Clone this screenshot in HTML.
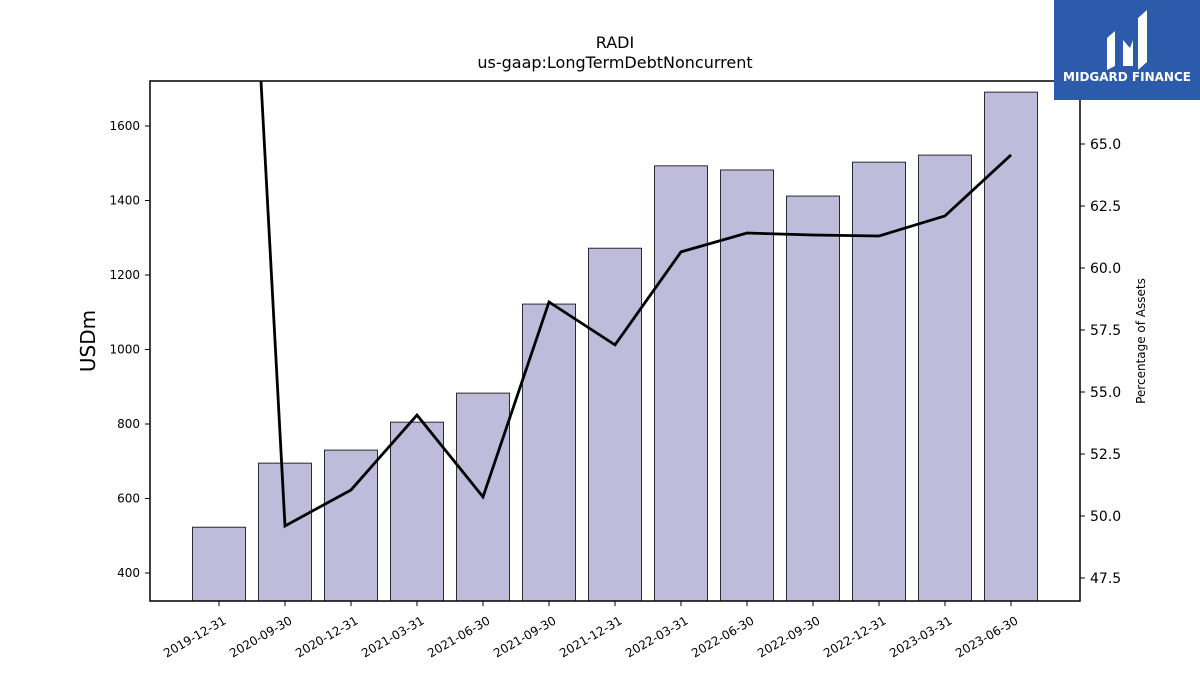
<!DOCTYPE html>
<html><head><meta charset="utf-8"><style>body{margin:0;background:#fff}svg{display:block;font-family:"DejaVu Sans","Liberation Sans",sans-serif}</style></head>
<body>
<svg id="c" width="1200" height="675"></svg>
<script>
const categories=["2019-12-31","2020-09-30","2020-12-31","2021-03-31","2021-06-30","2021-09-30","2021-12-31","2022-03-31","2022-06-30","2022-09-30","2022-12-31","2023-03-31","2023-06-30"];
const debtValues=[523,695,730,805,883,1122,1272,1493,1482,1412,1503,1522,1691];
const pctValues=[98.9,49.6,51.05,54.07,50.77,58.63,56.9,60.65,61.41,61.33,61.29,62.1,64.56];
const leftTicks=[400,600,800,1000,1200,1400,1600];
const rightTicks=[47.5,50.0,52.5,55.0,57.5,60.0,62.5,65.0];
const NS="http://www.w3.org/2000/svg",svg=document.getElementById('c');
const L=150,R=1080,T=81,B=601;
const yL=v=>573-(v-400)*0.3725;
const yR=v=>144-(v-65)*24.8;
const xC=i=>219+i*66;
function el(t,a,txt){const e=document.createElementNS(NS,t);for(const k in a)e.setAttribute(k,a[k]);if(txt!=null)e.textContent=txt;svg.appendChild(e);return e;}
const defs=el('defs',{});const cp=document.createElementNS(NS,'clipPath');cp.setAttribute('id','pc');const cr=document.createElementNS(NS,'rect');
cr.setAttribute('x',L);cr.setAttribute('y',T);cr.setAttribute('width',R-L);cr.setAttribute('height',B-T);cp.appendChild(cr);defs.appendChild(cp);
debtValues.forEach((v,i)=>{const r=el('rect',{x:xC(i)-26.5,y:yL(v),width:53,height:B-yL(v),fill:'#bebbdb',stroke:'#000','stroke-width':0.8});
});
const ln=el('polyline',{points:pctValues.map((v,i)=>xC(i)+','+yR(v)).join(' '),fill:'none',stroke:'#000','stroke-width':2.8,'clip-path':'url(#pc)'});

el('rect',{x:L,y:T,width:R-L,height:B-T,fill:'none',stroke:'#000','stroke-width':1.5,});
leftTicks.forEach(v=>{const y=yL(v);el('line',{x1:L-5,x2:L,y1:y,y2:y,stroke:'#000'});
const t=el('text',{x:L-10,y:y+4,'text-anchor':'end','font-size':12},v);});
rightTicks.forEach(v=>{const y=yR(v);el('line',{x1:R,x2:R+5,y1:y,y2:y,stroke:'#000'});
const t=el('text',{x:R+10,y:y+5,'font-size':14},v.toFixed(1));});
categories.forEach((c,i)=>{const x=xC(i);el('line',{x1:x,x2:x,y1:B,y2:B+5,stroke:'#000'});
const t=el('text',{x:x+8,y:B+22,'text-anchor':'end','font-size':12,transform:`rotate(-30 ${x+8} ${B+22})`},c);});
el('text',{x:615,y:48,'text-anchor':'middle','font-size':16,},'RADI');
el('text',{x:615,y:68,'text-anchor':'middle','font-size':16,},'us-gaap:LongTermDebtNoncurrent');
el('text',{x:95,y:341,'text-anchor':'middle','font-size':20,transform:'rotate(-90 95 341)',},'USDm');
el('text',{x:1145,y:341,'text-anchor':'middle','font-size':12,transform:'rotate(-90 1145 341)',},'Percentage of Assets');
el('rect',{x:1054,y:0,width:146,height:100,fill:'#2c5bab',});
el('path',{d:'M1107 70 V38 L1115 31 V66 Z M1123 66 V40 L1130 48 L1133 40 V66 Z M1138 70 V18 L1147 10 V62 Z',fill:'#fff',});
el('text',{x:1127,y:81,'text-anchor':'middle','font-size':12,'font-weight':'bold',fill:'#fff',},'MIDGARD FINANCE');
</script>
</body></html>
